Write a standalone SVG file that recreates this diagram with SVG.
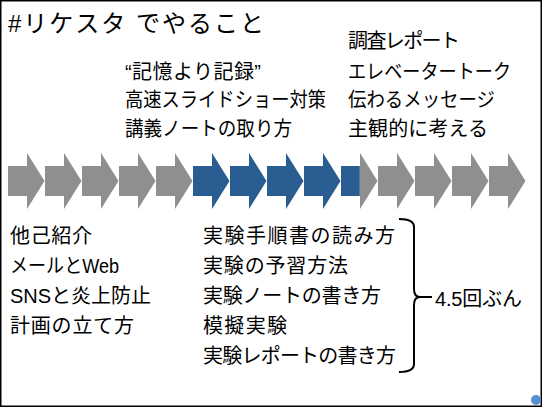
<svg xmlns="http://www.w3.org/2000/svg" width="542" height="407" viewBox="0 0 542 407">
<style>
text{font-family:"Liberation Sans","Noto Sans CJK JP",sans-serif;fill:#000;}
.t{font-size:20px;}
.title{font-size:24px;}
.g{fill:#8f8f8f;}
.b{fill:#2a5d91;}
.brace{fill:none;stroke:#000;stroke-width:2;}
</style>
<defs>
<polygon id="arr" points="0,166 19,166 19,153 36.5,181 19,209 19,196 0,196"/>
</defs>
<rect x="0.75" y="0.75" width="540.5" height="405.5" fill="#fff" stroke="#000" stroke-width="1.5"/>
<g id="title"><text class="title" x="8" y="32" textLength="256">#リケスタ でやること</text></g>
<g id="arrows">
<use href="#arr" class="g" x="8"/>
<use href="#arr" class="g" x="45"/>
<use href="#arr" class="g" x="82"/>
<use href="#arr" class="g" x="119"/>
<use href="#arr" class="g" x="156"/>
<use href="#arr" class="b" x="193"/>
<use href="#arr" class="b" x="230"/>
<use href="#arr" class="b" x="267"/>
<use href="#arr" class="b" x="304"/>
<use href="#arr" class="g" x="341"/>
<rect class="b" x="341" y="166" width="18.5" height="30"/>
<use href="#arr" class="g" x="378"/>
<use href="#arr" class="g" x="415"/>
<use href="#arr" class="g" x="452"/>
<use href="#arr" class="g" x="489"/>
</g>
<g id="top-middle">
<text class="t" x="125" y="79" textLength="136">“記憶より記録”</text>
<text class="t" x="125" y="107" textLength="201" lengthAdjust="spacingAndGlyphs">高速スライドショー対策</text>
<text class="t" x="125" y="136" textLength="167" lengthAdjust="spacingAndGlyphs">講義ノートの取り方</text>
</g>
<g id="top-right">
<text class="t" x="348" y="48" textLength="112">調査レポート</text>
<text class="t" x="348" y="79" textLength="163" lengthAdjust="spacingAndGlyphs">エレベータートーク</text>
<text class="t" x="348" y="107" textLength="147" lengthAdjust="spacingAndGlyphs">伝わるメッセージ</text>
<text class="t" x="348" y="136" textLength="140">主観的に考える</text>
</g>
<g id="bottom-left">
<text class="t" x="10" y="243" textLength="82">他己紹介</text>
<text class="t" x="10" y="273" textLength="109" lengthAdjust="spacingAndGlyphs">メールとWeb</text>
<text class="t" x="10" y="303" textLength="141">SNSと炎上防止</text>
<text class="t" x="10" y="333" textLength="124">計画の立て方</text>
</g>
<g id="bottom-middle">
<text class="t" x="203" y="243" textLength="192">実験手順書の読み方</text>
<text class="t" x="203" y="273" textLength="145">実験の予習方法</text>
<text class="t" x="203" y="303" textLength="178">実験ノートの書き方</text>
<text class="t" x="203" y="333" textLength="84">模擬実験</text>
<text class="t" x="203" y="363" textLength="193">実験レポートの書き方</text>
</g>
<g id="connectors">
<path class="brace" d="M399,219 Q414,219 414,227 V289 Q414,297 420,297 Q414,297 414,305 V364 Q414,372 399,372"/>
<path class="brace" d="M419,297 H432"/>
</g>
<g id="label"><text class="t" x="435" y="306" textLength="87">4.5回ぶん</text></g>
<circle cx="536" cy="400" r="5" fill="#5a8fd4"/>
</svg>
